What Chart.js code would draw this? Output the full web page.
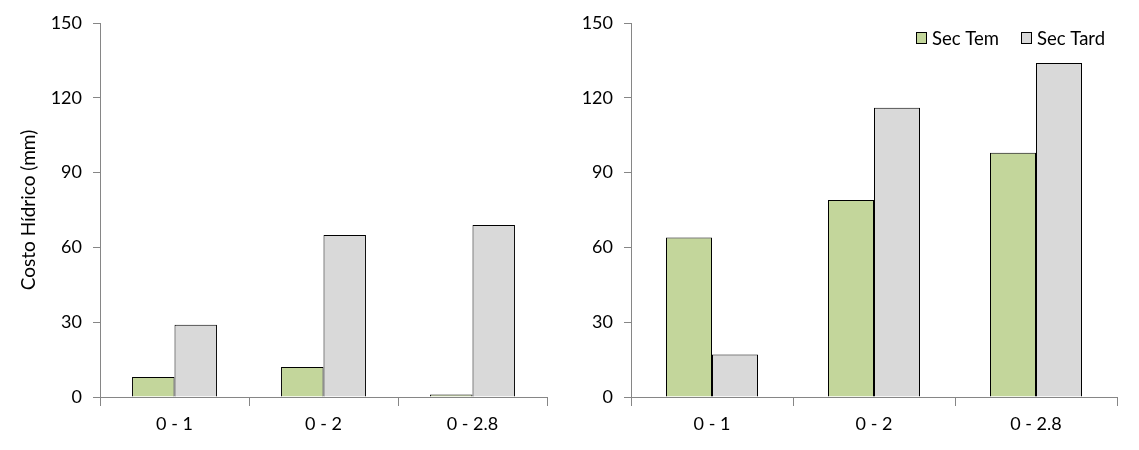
<!DOCTYPE html>
<html>
<head>
<meta charset="utf-8">
<script src="https://cdn.jsdelivr.net/npm/chart.js@4.4.1/dist/chart.umd.min.js"></script>
<style>
  html, body { margin: 0; padding: 0; background: #fff; }
  #wrap { position: relative; width: 1139px; height: 450px; }
  .box { position: absolute; top: 0; height: 450px; }
  #b1 { left: 0; width: 560px; }
  #b2 { left: 560px; width: 579px; }
</style>
</head>
<body>
<div id="wrap">
  <div class="box" id="b1"><canvas id="c1"></canvas></div>
  <div class="box" id="b2"><canvas id="c2"></canvas></div>
</div>
<script>
const categories = ["0 - 1", "0 - 2", "0 - 2.8"];
const seriesNames = ["Sec Tem", "Sec Tard"];
const leftSecTem = [8, 12, 1];
const leftSecTard = [29, 65, 69];
const rightSecTem = [64, 79, 98];
const rightSecTard = [17, 116, 134];
const yTickLabels = [0, 30, 60, 90, 120, 150];
const yTitle = "Costo Hídrico (mm)";

const FONT = "Lato, 'Open Sans', sans-serif";
const AXIS = "#868686";
const GREEN = "#c3d69b";
const GREY = "#d9d9d9";

const customLegend = {
  id: 'customLegend',
  afterDraw(chart, args, opts) {
    if (!opts || !opts.show) return;
    const ctx = chart.ctx;
    ctx.save();
    ctx.font = "18.5px " + FONT;
    ctx.textBaseline = "middle";
    chart.data.datasets.forEach((ds, i) => {
      const x = opts.xs[i];
      ctx.fillStyle = ds.backgroundColor;
      ctx.fillRect(x + 0.5, opts.y - 5.5, 10, 11);
      ctx.strokeStyle = "#000";
      ctx.lineWidth = 1;
      ctx.strokeRect(x + 0.5, opts.y - 5.5, 10, 11);
      ctx.fillStyle = "#000";
      ctx.fillText(ds.label, x + 16, opts.y + 1);
    });
    ctx.restore();
  }
};

function makeChart(id, tem, tard, opts) {
  return new Chart(document.getElementById(id), {
    type: 'bar',
    data: {
      labels: categories,
      datasets: [
        { label: seriesNames[0], data: tem, backgroundColor: GREEN, borderColor: "#000", borderWidth: 1 },
        { label: seriesNames[1], data: tard, backgroundColor: GREY, borderColor: "#000", borderWidth: 1 }
      ]
    },
    plugins: [customLegend],
    options: {
      responsive: true,
      maintainAspectRatio: false,
      animation: false,
      categoryPercentage: opts.catPct,
      barPercentage: 1,
      layout: { padding: { top: 23, right: opts.padRight, bottom: 0, left: 0 } },
      plugins: {
        legend: { display: false },
        tooltip: { enabled: false },
        customLegend: opts.legend
      },
      scales: {
        x: {
          grid: { offset: true, drawOnChartArea: false, drawTicks: true, tickLength: 9, color: AXIS },
          border: { color: AXIS, width: 1 },
          ticks: { color: "#000", font: { family: FONT, size: 18 }, padding: 7, maxRotation: 0 },
          afterFit(s) { s.height = 53; }
        },
        y: {
          min: 0, max: 150,
          grid: { drawOnChartArea: false, drawTicks: true, tickLength: 7, color: AXIS },
          border: { color: AXIS, width: 1 },
          ticks: {
            stepSize: 10,
            color: "#000",
            font: { family: FONT, size: 18 },
            padding: 11,
            autoSkip: false,
            callback: v => yTickLabels.includes(v) ? String(v) : null
          },
          title: opts.showTitle ? { display: true, text: yTitle, color: "#000", font: { family: FONT, size: 19 }, padding: { top: 17, bottom: 0 } } : { display: false },
          afterFit(s) { s.width = opts.yWidth; }
        }
      }
    }
  });
}

makeChart('c1', leftSecTem, leftSecTard, { catPct: 0.57, padRight: 13, yWidth: 100, showTitle: true, legend: { show: false } });
makeChart('c2', rightSecTem, rightSecTard, { catPct: 92 / 162, padRight: 22, yWidth: 71, showTitle: false, legend: { show: true, xs: [356, 461], y: 38 } });
</script>
</body>
</html>
